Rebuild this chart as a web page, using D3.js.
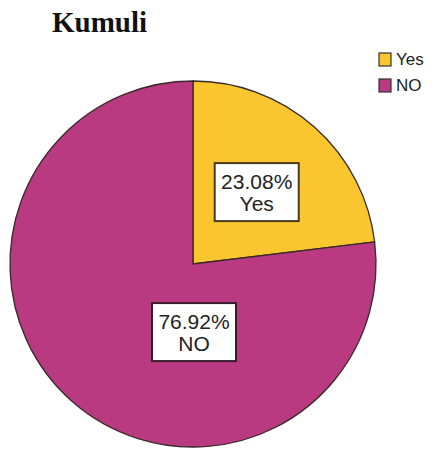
<!DOCTYPE html>
<html>
<head>
<meta charset="utf-8">
<script src="https://cdn.jsdelivr.net/npm/d3@7"></script>
<style>
    body { margin: 0; background: #fff; }
    svg { display: block; }
</style>
</head>
<body>
<div id="chart"></div>
<script>
    // chart data
    var categories = ["Yes", "NO"];
    var percents = [23.08, 76.92];
    var colors = ["#fac62f", "#b93a80"];
    var title = "Kumuli";

    var width = 446;
    var height = 450;
    var cx = 193, cy = 264, radius = 183;

    var svg = d3.select("#chart").append("svg")
        .attr("width", width)
        .attr("height", height);

    svg.append("text")
        .attr("x", 52)
        .attr("y", 32)
        .attr("font-family", "Liberation Serif, Times New Roman, serif")
        .attr("font-weight", "bold")
        .attr("font-size", "29px")
        .attr("fill", "#111")
        .text(title);

    var pie = d3.pie().sort(null).value(function (d) { return d; });
    var arcs = pie(percents);
    var arc = d3.arc().innerRadius(0).outerRadius(radius);

    var g = svg.append("g").attr("transform", "translate(" + cx + "," + cy + ")");

    g.selectAll("path").data(arcs).enter()
        .append("path")
        .attr("d", arc)
        .attr("fill", function (d, i) { return colors[i]; })
        .attr("stroke", "#3a2a2a")
        .attr("stroke-width", 1.3);

    // label placement: Yes at slice centroid, NO pulled toward bottom centre (SPSS style)
    var labelArc = d3.arc().innerRadius(0).outerRadius(radius * 1.05);
    function labelPos(d, i) {
        if (i === 0) return labelArc.centroid(d);
        return [1, radius * 0.372];
    }

    var labels = g.selectAll(".lbl").data(arcs).enter()
        .append("g")
        .attr("class", "lbl")
        .attr("transform", function (d, i) {
            var p = labelPos(d, i);
            return "translate(" + p[0] + "," + p[1] + ")";
        });

    labels.append("rect")
        .attr("x", -42)
        .attr("y", -29)
        .attr("width", 84)
        .attr("height", 58)
        .attr("fill", "#fff")
        .attr("stroke", function (d, i) { return i === 0 ? "#4a3a20" : "#3a1a2a"; })
        .attr("stroke-width", 2);

    labels.append("text")
        .attr("text-anchor", "middle")
        .attr("y", -3)
        .attr("font-family", "Liberation Sans, Arial, sans-serif")
        .attr("font-size", "21px")
        .attr("fill", "#222")
        .text(function (d, i) { return percents[i].toFixed(2) + "%"; });

    labels.append("text")
        .attr("text-anchor", "middle")
        .attr("y", 19)
        .attr("font-family", "Liberation Sans, Arial, sans-serif")
        .attr("font-size", "21px")
        .attr("fill", "#222")
        .text(function (d, i) { return categories[i]; });

    // legend
    var legend = svg.append("g").attr("transform", "translate(379,53)");
    var items = legend.selectAll("g").data(categories).enter()
        .append("g")
        .attr("transform", function (d, i) { return "translate(0," + (i * 26) + ")"; });

    items.append("rect")
        .attr("width", 12)
        .attr("height", 13)
        .attr("fill", function (d, i) { return colors[i]; })
        .attr("stroke", "#333")
        .attr("stroke-width", 1.2);

    items.append("text")
        .attr("x", 17)
        .attr("y", 12)
        .attr("font-family", "Liberation Sans, Arial, sans-serif")
        .attr("font-size", "17px")
        .attr("fill", "#222")
        .text(function (d) { return d; });
</script>
</body>
</html>
